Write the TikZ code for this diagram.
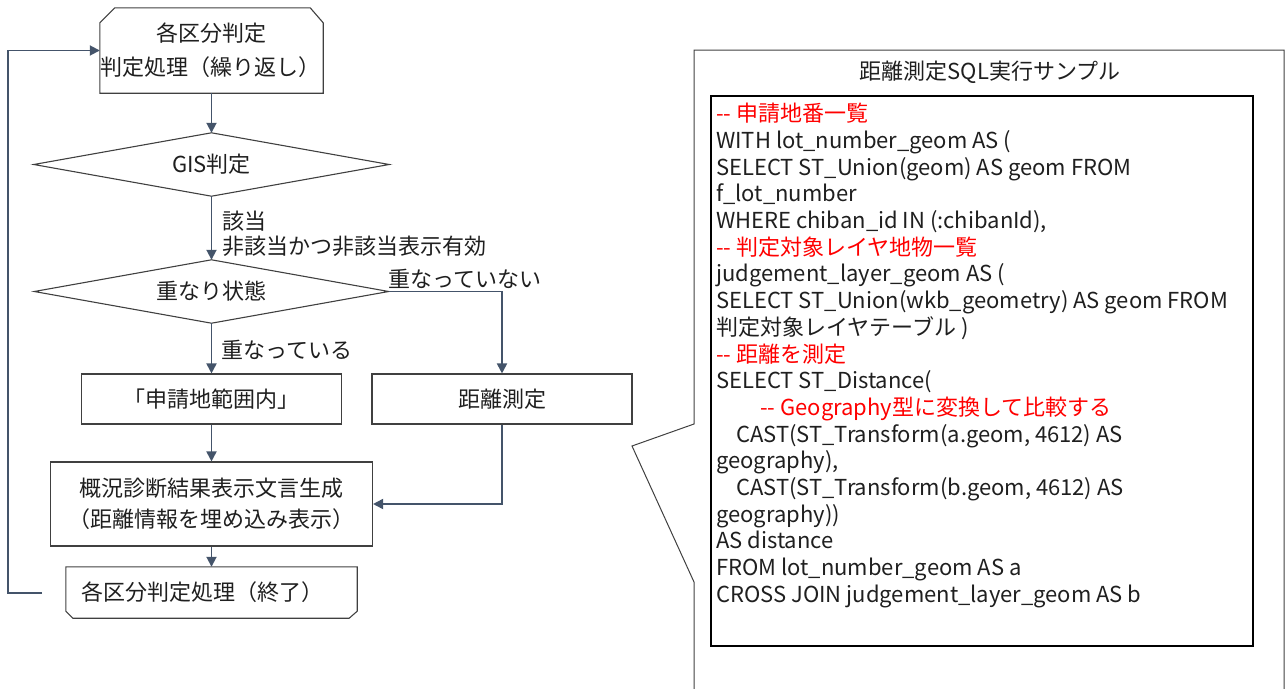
\documentclass[tikz,border=0pt]{standalone}
\usepackage{fontspec}
\setmainfont{Noto Sans CJK JP}
\usetikzlibrary{arrows.meta,calc}
\definecolor{connc}{HTML}{44546A}
\definecolor{edgec}{HTML}{404040}
\definecolor{txtc}{HTML}{1F1F1F}
\definecolor{cmtc}{HTML}{FF0000}
\newcommand{\dd}{-\kern0pt-}
\begin{document}
\begin{tikzpicture}[x=1pt,y=-1pt,
  font=\fontsize{22}{26.7}\selectfont, text=txtc,
  conn/.style={draw=connc, line width=1.8pt, -{Triangle[length=10pt,width=10pt]}},
  shapeline/.style={draw=edgec, line width=1.1pt},
  procbox/.style={shapeline, rectangle, inner sep=0pt, align=center},
  plain/.style={inner sep=0pt, align=center},
  lbl/.style={inner sep=0pt, anchor=west}]
\useasboundingbox (0,0) rectangle (1287,688);
% loop start
\node[plain, minimum width=223, minimum height=85, font=\fontsize{22}{34}\selectfont] (start) at (211.5,50.5) {各区分判定\\\hspace*{-2pt}判定処理（繰り返し）};
\draw[shapeline] (start.south west) -- ($(start.north west)+(0,15)$) -- ($(start.north west)+(15,0)$) -- ($(start.north east)+(-13,0)$) -- ($(start.north east)+(0,15)$) -- (start.south east) -- cycle;
% diamonds
\node[plain, minimum width=355, minimum height=63] (gis) at (211.5,164.5) {GIS判定};
\draw[shapeline] (gis.north) -- (gis.east) -- (gis.south) -- (gis.west) -- cycle;
\node[plain, minimum width=354, minimum height=63] (ovl) at (211.5,291.5) {重なり状態};
\draw[shapeline] (ovl.north) -- (ovl.east) -- (ovl.south) -- (ovl.west) -- cycle;
% process boxes
\node[procbox, minimum width=260, minimum height=50] (inside) at (211.5,399) {「申請地範囲内」};
\node[procbox, minimum width=260, minimum height=50] (dist) at (502,399) {距離測定};
\node[procbox, minimum width=322, minimum height=84, font=\fontsize{22}{31}\selectfont] (gen) at (211.5,504) {概況診断結果表示文言生成\\（距離情報を埋め込み表示）};
% loop end
\node[plain, minimum width=291, minimum height=51] (finish) at (211.5,592.5) {\hspace*{-18pt}各区分判定処理（終了）};
\draw[shapeline] (finish.north west) -- ($(finish.south west)+(0,-7)$) -- ($(finish.south west)+(7,0)$) -- ($(finish.south east)+(-8,0)$) -- ($(finish.south east)+(0,-7)$) -- (finish.north east) -- cycle;
% labels
\node[lbl] (l1) at (222,221) {該当};
\node[lbl] (l2) at (222,246) {非該当かつ非該当表示有効};
\node[lbl] (l3) at (388,279) {重なっていない};
\node[lbl] (l4) at (221,350) {重なっている};
% connectors
\draw[conn] (start) -- (gis);
\draw[conn] (gis) -- (ovl);
\draw[conn] (ovl) -- (inside);
\draw[conn] (ovl.east) -| (dist.north);
\draw[conn] (inside) -- (gen);
\draw[conn] (dist.south) |- (gen.east);
\draw[conn] (gen) -- (finish);
\coordinate (lp) at (42,593);
\draw[conn] (lp) -- ++(-34,0) |- (start.west);
% callout
\draw[draw=edgec, line width=1pt] (1284,690) -- (1284,50) -- (694,50) -- (694,424) -- (632,446) -- (694,582) -- (694,690);
\node[plain] (ttl) at (990,72) {距離測定SQL実行サンプル};
\node[draw=black, line width=1.6pt, minimum width=542, minimum height=550, anchor=north west, inner sep=0pt] (sqlbox) at (710,95) {};
\node[anchor=north west, align=left, inner sep=0pt] (sql) at ($(sqlbox.north west)+(6,8)$) {%
{\color{cmtc}\dd{} 申請地番一覧}\\
WITH lot\_number\_geom AS (\\
SELECT ST\_Union(geom) AS geom FROM\\
f\_lot\_number\\
WHERE chiban\_id IN (:chibanId),\\
{\color{cmtc}\dd{} 判定対象レイヤ地物一覧}\\
judgement\_layer\_geom AS (\\
SELECT ST\_Union(wkb\_geometry) AS geom FROM\\
判定対象レイヤテーブル )\\
{\color{cmtc}\dd{} 距離を測定}\\
SELECT ST\_Distance(\\
\hspace*{44pt}{\color{cmtc}\dd{} Geography型に変換して比較する}\\
\hspace*{20pt}CAST(ST\_Transform(a.geom, 4612) AS\\
geography),\\
\hspace*{20pt}CAST(ST\_Transform(b.geom, 4612) AS\\
geography))\\
AS distance\\
FROM lot\_number\_geom AS a\\
CROSS JOIN judgement\_layer\_geom AS b};
\end{tikzpicture}
\end{document}
